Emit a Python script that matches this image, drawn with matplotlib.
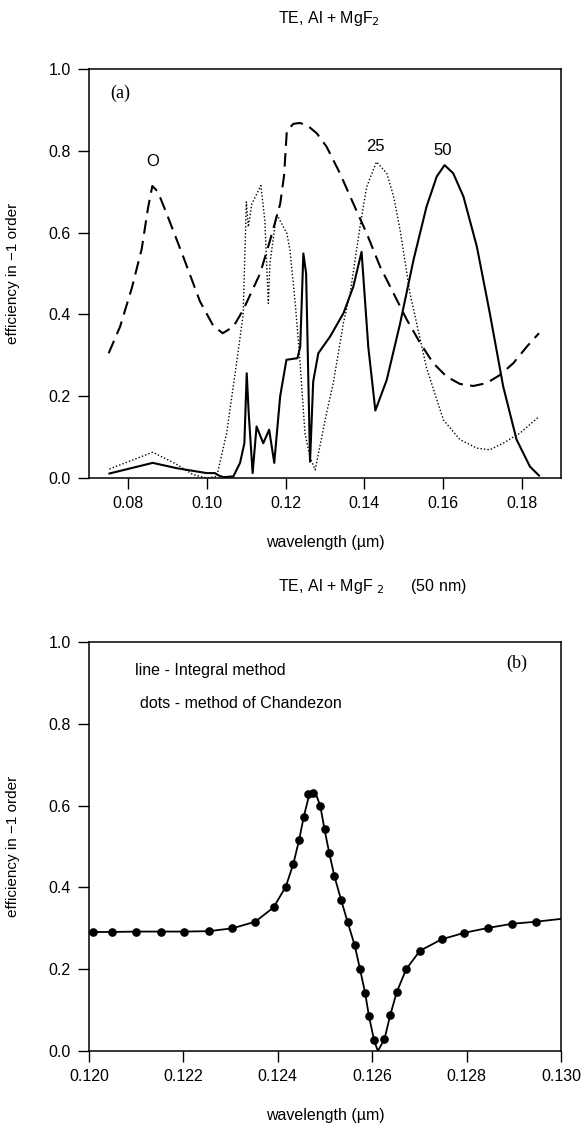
import matplotlib
matplotlib.use("Agg")
import matplotlib.pyplot as plt
from matplotlib.ticker import FormatStrFormatter

plt.rcParams['font.family'] = ['Liberation Sans', 'DejaVu Sans']
plt.rcParams['font.size'] = 11

# --- panel (a): efficiency vs wavelength for 3 MgF2 thicknesses ---
wl_0nm = [0.0750, 0.0779, 0.0809, 0.0834, 0.0850, 0.0861, 0.0875, 0.0898, 0.0940,
          0.0982, 0.1016, 0.1040, 0.1067, 0.1092, 0.1135, 0.1160, 0.1186, 0.1196,
          0.1203, 0.1220, 0.1236, 0.1255, 0.1279, 0.1304, 0.1338, 0.1372, 0.1406,
          0.1440, 0.1474, 0.1508, 0.1542, 0.1575, 0.1609, 0.1643, 0.1677, 0.1711,
          0.1745, 0.1779, 0.1813, 0.1844]
eff_0nm = [0.305, 0.370, 0.465, 0.560, 0.660, 0.714, 0.700, 0.645, 0.540,
           0.432, 0.372, 0.354, 0.370, 0.411, 0.500, 0.580, 0.670, 0.740,
           0.850, 0.866, 0.868, 0.862, 0.843, 0.810, 0.745, 0.671, 0.598,
           0.517, 0.452, 0.387, 0.330, 0.281, 0.248, 0.230, 0.225, 0.232,
           0.252, 0.281, 0.321, 0.354]

wl_25nm = [0.0752, 0.0862, 0.0920, 0.0965, 0.0999, 0.1025, 0.1050, 0.1075, 0.1092,
           0.1100, 0.1105, 0.1114, 0.1137, 0.1147, 0.1156, 0.1160, 0.1177, 0.1203,
           0.1211, 0.1225, 0.1236, 0.1249, 0.1262, 0.1275, 0.1304, 0.1321, 0.1347,
           0.1364, 0.1389, 0.1406, 0.1431, 0.1457, 0.1474, 0.1491, 0.1516, 0.1558,
           0.1601, 0.1643, 0.1686, 0.1719, 0.1753, 0.1796, 0.1844]
eff_25nm = [0.022, 0.063, 0.035, 0.008, 0.000, 0.004, 0.110, 0.280, 0.400,
            0.675, 0.614, 0.670, 0.715, 0.630, 0.427, 0.525, 0.645, 0.598,
            0.557, 0.420, 0.290, 0.110, 0.050, 0.020, 0.159, 0.232, 0.380,
            0.452, 0.614, 0.712, 0.773, 0.745, 0.690, 0.606, 0.452, 0.270,
            0.142, 0.094, 0.073, 0.069, 0.085, 0.110, 0.150]

wl_50nm = [0.0752, 0.0862, 0.0923, 0.0999, 0.1020, 0.1030, 0.1042, 0.1067, 0.1084,
           0.1095, 0.1101, 0.1106, 0.1116, 0.1126, 0.1143, 0.1158, 0.1171, 0.1186,
           0.1202, 0.1230, 0.1237, 0.1245, 0.1252, 0.1262, 0.1270, 0.1283, 0.1313,
           0.1347, 0.1372, 0.1393, 0.1410, 0.1428, 0.1457, 0.1491, 0.1525, 0.1558,
           0.1584, 0.1604, 0.1626, 0.1652, 0.1686, 0.1719, 0.1753, 0.1787, 0.1821,
           0.1844]
eff_50nm = [0.011, 0.037, 0.024, 0.012, 0.012, 0.006, 0.002, 0.004, 0.037,
            0.085, 0.256, 0.159, 0.012, 0.126, 0.085, 0.118, 0.037, 0.200,
            0.289, 0.293, 0.321, 0.549, 0.500, 0.040, 0.236, 0.305, 0.346,
            0.403, 0.468, 0.553, 0.321, 0.165, 0.240, 0.378, 0.533, 0.663,
            0.737, 0.765, 0.745, 0.688, 0.566, 0.403, 0.224, 0.094, 0.028,
            0.006]

# --- panel (b): integral method (line) vs Chandezon (dots) ---
wl_line = [0.12000, 0.12008, 0.12049, 0.12100, 0.12152, 0.12202, 0.12254, 0.12304,
           0.12352, 0.12391, 0.12417, 0.12433, 0.12445, 0.12455, 0.12467, 0.12478,
           0.12490, 0.12499, 0.12509, 0.12520, 0.12534, 0.12548, 0.12563, 0.12574,
           0.12585, 0.12593, 0.12604, 0.12612, 0.12626, 0.12638, 0.12652, 0.12672,
           0.12701, 0.12747, 0.12795, 0.12846, 0.12896, 0.12946, 0.13000]
eff_line = [0.290, 0.291, 0.291, 0.292, 0.292, 0.292, 0.293, 0.300,
            0.316, 0.351, 0.402, 0.458, 0.515, 0.573, 0.628, 0.637,
            0.599, 0.542, 0.484, 0.427, 0.370, 0.315, 0.258, 0.201,
            0.142, 0.086, 0.026, 0.000, 0.029, 0.087, 0.144, 0.200,
            0.245, 0.273, 0.289, 0.301, 0.311, 0.316, 0.323]

wl_dots = [0.12008, 0.12049, 0.12100, 0.12152, 0.12202, 0.12254, 0.12304, 0.12352,
           0.12391, 0.12417, 0.12433, 0.12445, 0.12455, 0.12465, 0.12474, 0.12490,
           0.12499, 0.12509, 0.12520, 0.12534, 0.12548, 0.12563, 0.12574, 0.12585,
           0.12593, 0.12604, 0.12626, 0.12638, 0.12652, 0.12672, 0.12701, 0.12747,
           0.12795, 0.12846, 0.12896, 0.12946]
eff_dots = [0.291, 0.291, 0.292, 0.292, 0.292, 0.293, 0.300, 0.316,
            0.351, 0.402, 0.458, 0.515, 0.573, 0.628, 0.632, 0.599,
            0.542, 0.484, 0.427, 0.370, 0.315, 0.258, 0.201, 0.142,
            0.086, 0.026, 0.029, 0.087, 0.144, 0.200, 0.245, 0.273,
            0.289, 0.301, 0.311, 0.316]

W, H = 584, 1124
fig = plt.figure(figsize=(W / 100, H / 100), dpi=100)


def px_axes(left, top, right, bottom):
    return fig.add_axes([left / W, 1 - bottom / H, (right - left) / W, (bottom - top) / H])


def style(ax):
    ax.tick_params(direction='out', length=8, width=1, labelsize=11.5,
                   top=False, right=False, pad=5)
    for s in ax.spines.values():
        s.set_linewidth(1.1)
    ax.set_ylim(0, 1.0)
    ax.set_yticks([0.0, 0.2, 0.4, 0.6, 0.8, 1.0])
    ax.yaxis.set_major_formatter(FormatStrFormatter('%.1f'))
    ax.set_ylabel('efficiency in \u22121 order', fontsize=11)
    ax.yaxis.set_label_coords(-0.146, 0.5)
    ax.set_xlabel('wavelength (\u00b5m)', fontsize=11.5, labelpad=17)


# --- STEP 01: top panel ---
ax1 = px_axes(89, 69, 561, 478)
ax1.plot(wl_0nm, eff_0nm, color='black', lw=1.5, dashes=(6.5, 3.5))
ax1.plot(wl_25nm, eff_25nm, color='black', lw=1.0, linestyle=(0, (1, 1.5)))
ax1.plot(wl_50nm, eff_50nm, color='black', lw=1.5)
ax1.set_xlim(0.07, 0.19)
ax1.set_xticks([0.08, 0.10, 0.12, 0.14, 0.16, 0.18])
ax1.xaxis.set_major_formatter(FormatStrFormatter('%.2f'))
style(ax1)
ax1.text(0.0862, 0.773, 'O', ha='center', va='center', fontsize=12)
ax1.text(0.1427, 0.81, '25', ha='center', va='center', fontsize=12)
ax1.text(0.1600, 0.80, '50', ha='center', va='center', fontsize=12)
ax1.text(0.0755, 0.94, '(a)', ha='left', va='center', fontsize=13, family='Liberation Serif')
fig.text(278 / W, 1 - 18 / H, 'TE, Al + MgF$_2$', ha='left', va='center', fontsize=11.5)

# --- STEP 02: bottom panel ---
ax2 = px_axes(89, 642, 561, 1051)
ax2.plot(wl_line, eff_line, color='black', lw=1.3)
ax2.plot(wl_dots, eff_dots, 'o', color='black', markersize=5.2)
ax2.set_xlim(0.120, 0.130)
ax2.set_xticks([0.120, 0.122, 0.124, 0.126, 0.128, 0.130])
ax2.xaxis.set_major_formatter(FormatStrFormatter('%.3f'))
style(ax2)
ax2.text(0.12098, 0.93, 'line - Integral method', ha='left', va='center', fontsize=11.5)
ax2.text(0.12108, 0.85, 'dots - method of Chandezon', ha='left', va='center', fontsize=11.5)
ax2.text(0.12907, 0.949, '(b)', ha='center', va='center', fontsize=13, family='Liberation Serif')
fig.text(278 / W, 1 - 587 / H, 'TE, Al + MgF $_2$      (50 nm)', ha='left', va='center', fontsize=11.5)

fig.savefig('out.png', dpi=100)
